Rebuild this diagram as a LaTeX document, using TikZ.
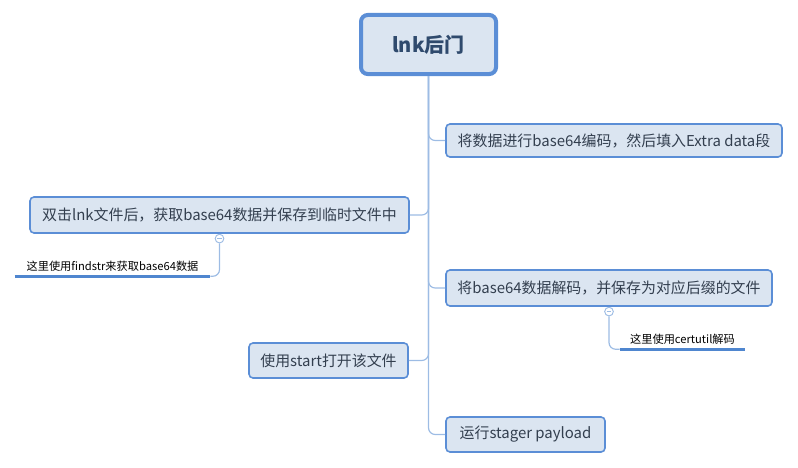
\documentclass[tikz,border=0pt]{standalone}
\usepackage{fontspec}
\setmainfont{Noto Sans CJK SC}
\definecolor{boxfill}{HTML}{DBE5F1}
\definecolor{boxline}{HTML}{5B8ED6}
\definecolor{linkline}{HTML}{9DBCE4}
\definecolor{txt}{HTML}{333F4F}
\definecolor{roottxt}{HTML}{2F4A6D}
\definecolor{markline}{HTML}{4F86CF}
\begin{document}
\begin{tikzpicture}[
    x=0.75pt, y=-0.75pt,
    root/.style={rectangle, draw=boxline, line width=3pt, fill=boxfill, rounded corners=5pt, text=roottxt, font=\fontsize{15}{18}\selectfont\bfseries},
    topic/.style={rectangle, draw=boxline, line width=1.2pt, fill=boxfill, rounded corners=3pt, text=txt, font=\fontsize{11.2}{13}\selectfont},
    note/.style={rectangle, minimum height=15pt, inner sep=0pt, text=black, font=\fontsize{8.4}{10}\selectfont},
    fold/.style={circle, draw=linkline, fill=white, line width=0.7pt, minimum size=6.5pt, inner sep=0pt,
        path picture={\draw[linkline, line width=0.7pt] ([xshift=-1.8pt]path picture bounding box.center) -- ([xshift=1.8pt]path picture bounding box.center);}},
    link/.style={draw=linkline, line width=0.9pt, rounded corners=5pt},
    underline/.style={draw=markline, line width=2.2pt}
]
    \useasboundingbox (0,0) rectangle (798,467);

    % Central topic
    \node [root, minimum width=101.25pt, minimum height=44.25pt] (lnk) at (428.5,44.5) {lnk后门};

    % Right branches
    \node [topic, minimum width=252pt, minimum height=24.75pt] (encode) at (614,140.5) {将数据进行base64编码，然后填入Extra data段};
    \node [topic, minimum width=244.5pt, minimum height=27pt] (decode) at (609,288) {将base64数据解码，并保存为对应后缀的文件};
    \node [topic, minimum width=119.25pt, minimum height=26.25pt] (stager) at (525.5,434.5) {运行stager payload};

    % Left branches
    \node [topic, minimum width=284.25pt, minimum height=27pt] (click) at (219.5,215) {双击lnk文件后，获取base64数据并保存到临时文件中};
    \node [topic, minimum width=119.25pt, minimum height=26.25pt] (start) at (328.5,360.5) {使用start打开该文件};

    % Notes
    \node [fold, anchor=north] (foldclick) at (click.south) {};
    \node [note, minimum width=146.25pt] (findstr) at (112.5,266) {这里使用findstr来获取base64数据};
    \node [fold, anchor=north] (folddecode) at (decode.south) {};
    \node [note, minimum width=93.75pt] (certutil) at (682.5,339) {这里使用certutil解码};

    % Connections
    \draw [link] (lnk.south) |- (stager.west);
    \draw [link] (lnk.south) |- (encode.west);
    \draw [link] (lnk.south) |- (decode.west);
    \draw [link] (lnk.south) |- (click.east);
    \draw [link] (lnk.south) |- (start.east);

    % Note connections
    \draw [link] (foldclick.south) |- (findstr.south east);
    \draw [link] (folddecode.south) |- (certutil.south west);
    \draw [underline] (findstr.south west) -- (findstr.south east);
    \draw [underline] (certutil.south west) -- (certutil.south east);
\end{tikzpicture}
\end{document}
